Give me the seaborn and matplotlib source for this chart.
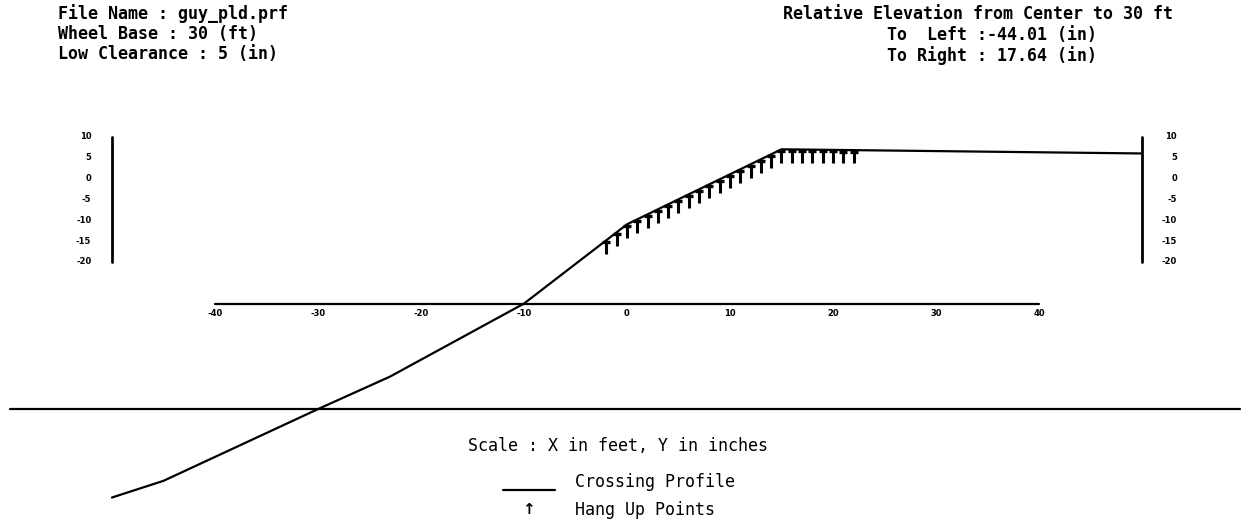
"""Crossing profile plot with hang-up points"""

import numpy as np
import pandas as pd
import matplotlib
matplotlib.use('Agg')
import matplotlib.pyplot as plt
from matplotlib.lines import Line2D
import seaborn as sns

sns.set_style('white')
plt.rcParams['font.family'] = ['DejaVu Sans Mono', 'DejaVu Sans']
plt.rcParams['text.color'] = 'black'

# profile of the crossing (x in feet, y in inches)
profile_x = [-50, -45, -30, -23, -10, 0, 15, 22, 50]
profile_y = [-76.5, -72.5, -55.3, -47.5, -30.0, -11.0, 7.0, 6.8, 6.0]

# hang up points (x in feet, top elevation in inches)
hang_x = list(range(-2, 23))
hang_y = [-14.8, -12.9, -11.0, -9.8, -8.6, -7.4, -6.2, -5.0, -3.8, -2.6,
          -1.4, -0.2, 1.0, 2.2, 3.4, 4.6, 5.8, 7.0, 7.0, 6.9, 6.9, 6.9,
          6.9, 6.8, 6.8]
hang_depth = 3.2

x_ticks = [-40, -30, -20, -10, 0, 10, 20, 30, 40]
y_ticks = [10, 5, 0, -5, -10, -15, -20]
x_axis_level = -30
ref_level = -55.3
scale_bar_x = [-50, 50]

header_left = ['File Name : guy_pld.prf', 'Wheel Base : 30 (ft)',
               'Low Clearance : 5 (in)']
header_right = ['Relative Elevation from Center to 30 ft',
                'To  Left :-44.01 (in)', 'To Right : 17.64 (in)']

W, H = 1250, 522
fig = plt.figure(figsize=(W / 100, H / 100), dpi=100)
ax = fig.add_axes([0, 0, 1, 1])
ax.set_xlim(-60.87, 60.49)
ax.set_ylim(-82.37, 42.8)
ax.axis('off')

df = pd.DataFrame({'x': profile_x, 'y': profile_y})
sns.lineplot(data=df, x='x', y='y', ax=ax, color='black', lw=1.6,
             estimator=None, sort=False)

# hang up arrows hanging below the profile
hx = np.array(hang_x)
hy = np.array(hang_y)
ax.vlines(hx, hy - hang_depth, hy, color='black', lw=2.2)
ax.scatter(hx, hy - 0.35, marker='_', s=32, color='black', linewidths=2.4)

# x axis at -30 in
ax.plot([x_ticks[0], x_ticks[-1]], [x_axis_level, x_axis_level],
        color='black', lw=1.6)
for t in x_ticks:
    ax.text(t, x_axis_level - 2.4, f'{t}', ha='center', va='center',
            fontsize=6, fontweight='bold', family='DejaVu Sans')

# reference line across the page
ax.plot([-59.9, 59.5], [ref_level, ref_level], color='black', lw=1.6)

# vertical scale bars with labels
for i, sx in enumerate(scale_bar_x):
    ax.plot([sx, sx], [y_ticks[0], y_ticks[-1]], color='black', lw=2)
    for t in y_ticks:
        lx = sx - 2.0 if i == 0 else sx + 3.4
        ax.text(lx, t, f'{t}', ha='right', va='center', fontsize=6,
                fontweight='bold', family='DejaVu Sans')


def fx(px):
    return px / W


def fy(py):
    return 1 - py / H


for i, s in enumerate(header_left):
    fig.text(fx(58), fy(14 + 20 * i), s, ha='left', va='center',
             fontsize=12, fontweight='bold')
fig.text(fx(783), fy(14), header_right[0], ha='left', va='center',
         fontsize=12, fontweight='bold')
for i, s in enumerate(header_right[1:]):
    fig.text(fx(887), fy(35 + 20.5 * i), s, ha='left', va='center',
             fontsize=12, fontweight='bold')

fig.text(fx(468), fy(446), 'Scale : X in feet, Y in inches', ha='left',
         va='center', fontsize=12)
fig.add_artist(Line2D([fx(503), fx(555)], [fy(490), fy(490)],
                      color='black', lw=1.6))
fig.text(fx(575), fy(482), 'Crossing Profile', ha='left', va='center',
         fontsize=12)
fig.text(fx(528), fy(510), '↑', ha='center', va='center', fontsize=11,
         fontweight='bold', family='DejaVu Sans')
fig.text(fx(575), fy(510), 'Hang Up Points', ha='left', va='center',
         fontsize=12)

fig.savefig('out.png', dpi=100)
